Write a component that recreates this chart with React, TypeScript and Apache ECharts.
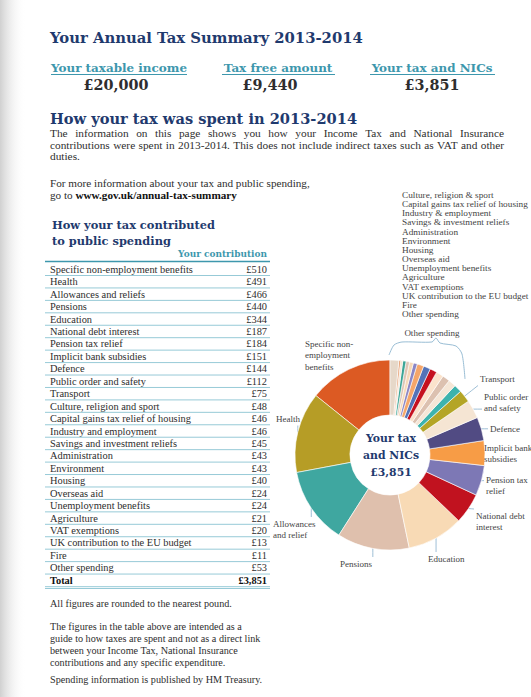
import React, { useEffect, useRef } from 'react';
import * as echarts from 'echarts';

// ---------- data ----------
const categories = [
  'Specific non-employment benefits', 'Health', 'Allowances and reliefs', 'Pensions', 'Education',
  'National debt interest', 'Pension tax relief', 'Implicit bank subsidies', 'Defence',
  'Public order and safety', 'Transport', 'Culture, religion and sport',
  'Capital gains tax relief of housing', 'Industry and employment', 'Savings and investment reliefs',
  'Administration', 'Environment', 'Housing', 'Overseas aid', 'Unemployment benefits', 'Agriculture',
  'VAT exemptions', 'UK contribution to the EU budget', 'Fire', 'Other spending',
];
const contributions = [510, 491, 466, 440, 344, 187, 184, 151, 144, 112, 75, 48, 46, 46, 45, 43, 43, 40, 24, 24, 21, 20, 13, 11, 53];
const totalText = '£3,851';
const pieLabels = [
  'Specific non-\nemployment\nbenefits', 'Health', 'Allowances\nand relief', 'Pensions', 'Education',
  'National debt\ninterest', 'Pension tax\nrelief', 'Implicit bank\nsubsidies', 'Defence',
  'Public order\nand safety', 'Transport',
];
const otherSpendingList = [
  'Culture, religion & sport', 'Capital gains tax relief of housing', 'Industry & employment',
  'Savings & investment reliefs', 'Administration', 'Environment', 'Housing', 'Overseas aid',
  'Unemployment benefits', 'Agriculture', 'VAT exemptions', 'UK contribution to the EU budget',
  'Fire', 'Other spending',
];
const summaryHeads = ['Your taxable income', 'Tax free amount', 'Your tax and NICs'];
const summaryValues = ['£20,000', '£9,440', '£3,851'];
const introLines = [
  'The information on this page shows you how your Income Tax and National Insurance',
  'contributions were spent in 2013-2014. This does not include indirect taxes such as VAT and other',
  'duties.',
];
const noteLines = [
  'The figures in the table above are intended as a',
  'guide to how taxes are spent and not as a direct link',
  'between your Income Tax, National Insurance',
  'contributions and any specific expenditure.',
];

// ---------- styles / layout ----------
const sliceColors = [
  '#dc5a23', '#b69d26', '#3fa7a0', '#dfc0ad', '#f8dab5', '#c1121f', '#7d78b5', '#f79c46',
  '#514b83', '#f5e5d3', '#b4a526',
  '#3db3ad', '#f5e6d6', '#dcc1b0', '#fbe3cc', '#c5111f', '#5473b8', '#f5a66a', '#8c86c4',
  '#f7d9b8', '#ddc4b4', '#3ba596', '#f3e5d5', '#e59a6a', '#e6d8c9',
];
const labelPos: number[][] = [
  [305, 338], [276, 413], [273, 518], [340, 558], [428, 553], [476, 510],
  [486, 474], [484, 442], [490, 423], [484, 391], [480, 373],
];
const NAVY = '#1f3a6e';
const TEAL = '#3d97ad';
const INK = '#2e2e2e';
const RULE = '#97cad7';
const HEAD = '"DejaVu Serif", serif';
const BODY = '"Liberation Serif", serif';

export default function App() {
  const ref = useRef<HTMLDivElement>(null);

  useEffect(() => {
    const el = ref.current!;
    const chart = echarts.init(el, undefined, { renderer: 'svg' });
    const ctx = document.createElement('canvas').getContext('2d')!;
    const measure = (t: string, font: string) => { ctx.font = font; return ctx.measureText(t).width; };
    const fit = (t: string, weight: string, fam: string, w: number) => (100 * w) / measure(t, `${weight} 100px ${fam}`);
    const F = (weight: string, size: number, fam: string) => `${weight} ${size.toFixed(2)}px ${fam}`;

    const T = (x: number, y: number, text: string, font: string, fill: string, align = 'left', extra: any = {}) => ({
      type: 'text', x, y, silent: true,
      style: { text, font, fill, align, textAlign: align, verticalAlign: 'middle', textVerticalAlign: 'middle', ...extra },
    });
    const L = (x1: number, y1: number, x2: number, y2: number, stroke: string, lineWidth = 1) => ({
      type: 'line', silent: true, shape: { x1, y1, x2, y2 }, style: { stroke, lineWidth },
    });

    const g: any[] = [];
    // soft shadow at left edge of the photographed page
    g.push({
      type: 'rect', silent: true, shape: { x: 0, y: 0, width: 26, height: 697 },
      style: { fill: new echarts.graphic.LinearGradient(0, 0, 1, 0, [
        { offset: 0, color: 'rgba(170,170,170,0.55)' }, { offset: 1, color: 'rgba(255,255,255,0)' }]) },
    });

    // title
    const titleFont = F('bold', fit('Your Annual Tax Summary 2013-2014', 'bold', HEAD, 313), HEAD);
    g.push(T(50, 37, 'Your Annual Tax Summary 2013-2014', titleFont, NAVY));

    // summary
    const sumSize = fit(summaryHeads[0], 'bold', HEAD, 136);
    const sumFont = F('bold', sumSize, HEAD);
    const headCenters = [119, 278, 432];
    const underline = [[51, 187], [222, 335], [370, 495]];
    const valCenters = [116, 270, 432];
    const valFont = F('bold', fit(summaryValues[0], 'bold', HEAD, 65), HEAD);
    summaryHeads.forEach((h, i) => {
      g.push(T(headCenters[i], 68, h, sumFont, TEAL, 'center'));
      g.push(L(underline[i][0], 74.5, underline[i][1], 74.5, TEAL, 1));
      g.push(T(valCenters[i], 85, summaryValues[i], valFont, INK, 'center'));
    });

    // heading 2 + intro
    const h2Font = F('bold', fit('How your tax was spent in 2013-2014', 'bold', HEAD, 307), HEAD);
    g.push(T(50, 118, 'How your tax was spent in 2013-2014', h2Font, NAVY));
    const paraFont = F('normal', fit(introLines[1], 'normal', BODY, 446), BODY);
    const justify = (line: string, x0: number, x1: number, y: number, font: string) => {
      const words = line.split(' ');
      const ws = words.map((w) => measure(w, font));
      const gap = (x1 - x0 - ws.reduce((a, b) => a + b, 0)) / (words.length - 1);
      let x = x0;
      words.forEach((w, i) => { g.push(T(x, y, w, font, INK)); x += ws[i] + gap; });
    };
    justify(introLines[0], 50, 504, 133, paraFont);
    justify(introLines[1], 50, 504, 144.5, paraFont);
    g.push(T(50, 156, introLines[2], paraFont, INK));

    const moreFont = F('normal', fit('For more information about your tax and public spending,', 'normal', BODY, 260), BODY);
    g.push(T(50, 183, 'For more information about your tax and public spending,', moreFont, INK));
    g.push(T(50, 195, 'go to ', moreFont, INK));
    g.push(T(50 + measure('go to ', moreFont), 195, 'www.gov.uk/annual-tax-summary', moreFont.replace('normal', 'bold'), '#111'));

    // heading 3
    const h3Font = F('bold', fit('How your tax contributed', 'bold', HEAD, 163), HEAD);
    g.push(T(52, 225, 'How your tax contributed', h3Font, NAVY));
    g.push(T(52, 241, 'to public spending', h3Font, NAVY));
    const contribFont = F('bold', fit('Your contribution', 'bold', HEAD, 89), HEAD);
    g.push(T(267, 253.5, 'Your contribution', contribFont, TEAL, 'right'));

    // table
    const rowFont = F('normal', fit(categories[0], 'normal', BODY, 143), BODY);
    const y0 = 269.3, pitch = 12.44;
    g.push(L(45, 261.5, 270, 261.5, TEAL, 1.6));
    categories.forEach((c, i) => {
      const y = y0 + i * pitch;
      g.push(T(50, y, c, rowFont, INK));
      g.push(T(267, y, '£' + contributions[i], rowFont, INK, 'right'));
      g.push(L(45, y + 6.2, 270, y + 6.2, RULE, 1));
    });
    const yT = y0 + categories.length * pitch;
    g.push(T(50, yT, 'Total', rowFont.replace('normal', 'bold'), '#111'));
    g.push(T(267, yT, totalText, rowFont.replace('normal', 'bold'), '#111', 'right'));
    g.push(L(45, yT + 6.4, 270, yT + 6.4, RULE, 1));
    g.push(L(45, yT + 8.2, 270, yT + 8.2, RULE, 1));

    // notes
    const noteFont = F('normal', fit('All figures are rounded to the nearest pound.', 'normal', BODY, 182), BODY);
    g.push(T(50, 603, 'All figures are rounded to the nearest pound.', noteFont, INK));
    noteLines.forEach((l, i) => g.push(T(50, 626 + i * 12, l, noteFont, INK)));
    g.push(T(50, 679, 'Spending information is published by HM Treasury.', noteFont, INK));

    // right-hand list of small items
    const listFont = F('normal', fit(otherSpendingList[1], 'normal', BODY, 126), BODY);
    otherSpendingList.forEach((t, i) => g.push(T(402, 195 + i * 9.15, t, listFont, '#444')));

    // "Other spending" brace
    const pieLabelSize = fit('employment', 'normal', BODY, 45);
    g.push(T(432, 333, 'Other spending', F('normal', pieLabelSize, BODY), '#444', 'center'));
    g.push({
      type: 'polyline', silent: true,
      shape: { points: [[389, 355], [394, 345], [402, 342], [432, 342], [436, 338], [440, 343], [456, 346], [462, 354], [465, 379]], smooth: 0.25 },
      style: { stroke: '#8db5cf', lineWidth: 0.9, fill: 'none' },
    });

    // centre text
    const centreFont = F('bold', fit('and NICs', 'bold', HEAD, 56), HEAD);
    g.push(T(391, 455, 'Your tax\nand NICs\n' + totalText, centreFont, NAVY, 'center', { lineHeight: 17 }));

    const data = categories.map((c, i) => {
      const d: any = { name: c, value: contributions[i], itemStyle: { color: sliceColors[i] } };
      if (!pieLabels[i]) { d.label = { show: false }; d.labelLine = { show: false }; }
      return d;
    });

    chart.setOption({
      animation: false,
      backgroundColor: '#ffffff',
      graphic: g,
      series: [{
        type: 'pie',
        center: [390, 455],
        radius: [40, 95],
        startAngle: 90,
        clockwise: false,
        avoidLabelOverlap: false,
        silent: true,
        itemStyle: { borderColor: '#ffffff', borderWidth: 0.6 },
        label: {
          show: true, position: 'outside',
          formatter: (p: any) => pieLabels[p.dataIndex] || '',
          fontFamily: BODY, fontSize: pieLabelSize, lineHeight: pieLabelSize * 1.28, color: '#444',
        },
        labelLine: { show: true, length: 6, length2: 4, lineStyle: { color: '#86aecb', width: 0.8 } },
        labelLayout: (params: any) => {
          const pos = labelPos[params.dataIndex];
          if (!pos) return {};
          const [x, y] = pos;
          const w = params.labelRect.width, h = params.labelRect.height;
          const res: any = { x, y, align: 'left', verticalAlign: 'top' };
          const pts = params.labelLinePoints;
          if (pts) {
            const p0 = pts[0];
            const ex = Math.min(Math.max(p0[0], x - 2), x + w + 2);
            const ey = Math.min(Math.max(p0[1], y - 1), y + h + 1);
            res.labelLinePoints = [p0, [(p0[0] + ex) / 2, (p0[1] + ey) / 2], [ex, ey]];
          }
          return res;
        },
        data,
      }],
    });

    return () => chart.dispose();
  }, []);

  return <div ref={ref} style={{ position: 'fixed', left: 0, top: 0, width: 531, height: 697, background: '#fff' }} />;
}
